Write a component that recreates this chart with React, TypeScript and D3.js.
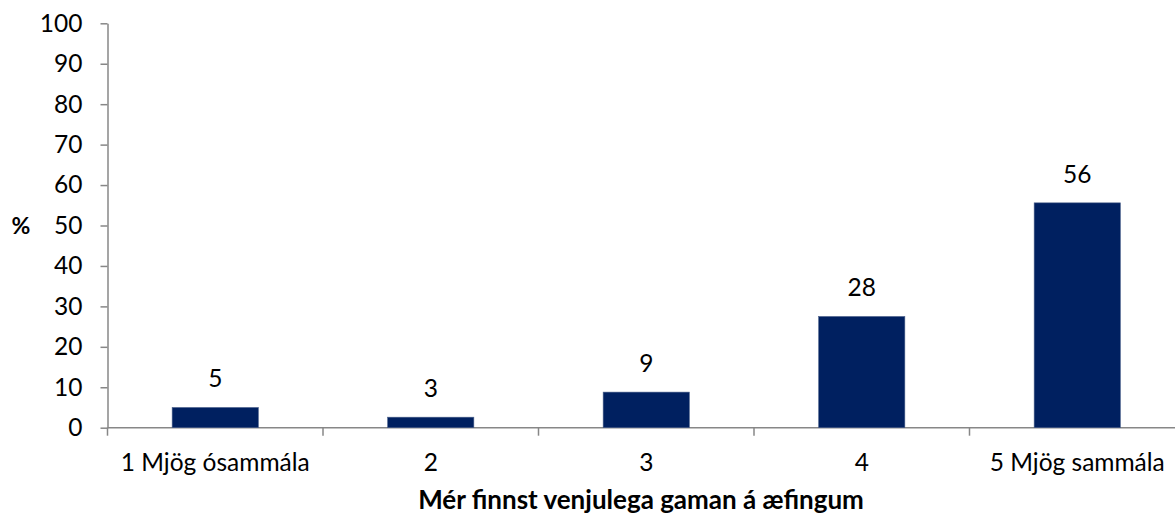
import React, { useEffect, useRef } from "react";
import * as d3 from "d3";

const categories = ["1 Mjög ósammála", "2", "3", "4", "5 Mjög sammála"];
const values = [5.0, 2.6, 8.8, 27.5, 55.6];
const valueLabels = ["5", "3", "9", "28", "56"];
const yTicks = [0, 10, 20, 30, 40, 50, 60, 70, 80, 90, 100];
const xTitle = "Mér finnst venjulega gaman á æfingum";
const yTitle = "%";

const FONT = "Lato, 'Open Sans', sans-serif";

function App() {
  const ref = useRef<SVGSVGElement>(null);

  useEffect(() => {
    document.body.style.margin = "0";
    drawChart();
  }, []);

  const drawChart = () => {
    const svg = d3.select(ref.current);
    svg.selectAll("*").remove();

    const svgWidth = 1175, svgHeight = 515;
    const margin = { top: 23.3, left: 107.5, bottom: 87.3 };
    const plotRight = 1185; // last category runs off the picture edge
    const axisColor = "#878787";

    const x = d3.scaleBand<string>()
      .domain(categories)
      .range([margin.left, plotRight])
      .paddingInner(0.6)
      .paddingOuter(0.3);

    const y = d3.scaleLinear()
      .domain([0, 100])
      .range([svgHeight - margin.bottom, margin.top]);

    // y axis
    const yAxis = svg.append("g")
      .attr("transform", `translate(${margin.left},0)`)
      .call(d3.axisLeft(y).tickValues(yTicks).tickSize(7).tickPadding(18).tickSizeOuter(0));
    yAxis.select(".domain").attr("stroke", axisColor).attr("stroke-width", 1.5);
    yAxis.selectAll(".tick line").attr("stroke", axisColor).attr("stroke-width", 1.5);
    yAxis.selectAll(".tick text")
      .attr("font-family", FONT)
      .attr("font-size", "24.5px")
      .attr("fill", "#000");

    // x axis baseline and category boundary ticks
    const y0 = y(0);
    svg.append("line")
      .attr("x1", margin.left).attr("x2", svgWidth)
      .attr("y1", y0).attr("y2", y0)
      .attr("stroke", axisColor).attr("stroke-width", 1.5);

    const step = x.step();
    const boundaries = d3.range(categories.length + 1).map(i => x.range()[0] + i * step);
    svg.selectAll(".xtick")
      .data(boundaries)
      .enter()
      .append("line")
      .attr("class", "xtick")
      .attr("x1", d => d).attr("x2", d => d)
      .attr("y1", y0).attr("y2", y0 + 8)
      .attr("stroke", axisColor).attr("stroke-width", 1.5);

    svg.selectAll(".xlabel")
      .data(categories)
      .enter()
      .append("text")
      .attr("class", "xlabel")
      .attr("x", d => x(d)! + x.bandwidth() / 2)
      .attr("y", 471)
      .attr("text-anchor", "middle")
      .attr("font-family", FONT)
      .attr("font-size", "24.5px")
      .attr("fill", "#000")
      .text(d => d);

    // bars
    svg.selectAll(".bar")
      .data(categories)
      .enter()
      .append("rect")
      .attr("class", "bar")
      .attr("x", d => x(d)!)
      .attr("y", (d, i) => y(values[i]))
      .attr("width", x.bandwidth())
      .attr("height", (d, i) => y0 - y(values[i]))
      .attr("fill", "#002060")
      .attr("stroke", "#4a5f8a")
      .attr("stroke-width", 0.6);

    svg.selectAll(".vlabel")
      .data(categories)
      .enter()
      .append("text")
      .attr("class", "vlabel")
      .attr("x", d => x(d)! + x.bandwidth() / 2)
      .attr("y", (d, i) => y(values[i]) - 20)
      .attr("text-anchor", "middle")
      .attr("font-family", FONT)
      .attr("font-size", "24.5px")
      .attr("fill", "#000")
      .text((d, i) => valueLabels[i]);

    // titles
    svg.append("text")
      .attr("x", 641)
      .attr("y", 509)
      .attr("text-anchor", "middle")
      .attr("font-family", FONT)
      .attr("font-size", "26px")
      .attr("font-weight", "bold")
      .attr("fill", "#000")
      .text(xTitle);

    svg.append("text")
      .attr("x", 21)
      .attr("y", y(50) + 8)
      .attr("text-anchor", "middle")
      .attr("font-family", FONT)
      .attr("font-size", "23px")
      .attr("font-weight", "bold")
      .attr("fill", "#000")
      .text(yTitle);
  };

  return <svg ref={ref} width={1175} height={515} style={{ display: "block", background: "#fff" }} />;
}

export default App;
